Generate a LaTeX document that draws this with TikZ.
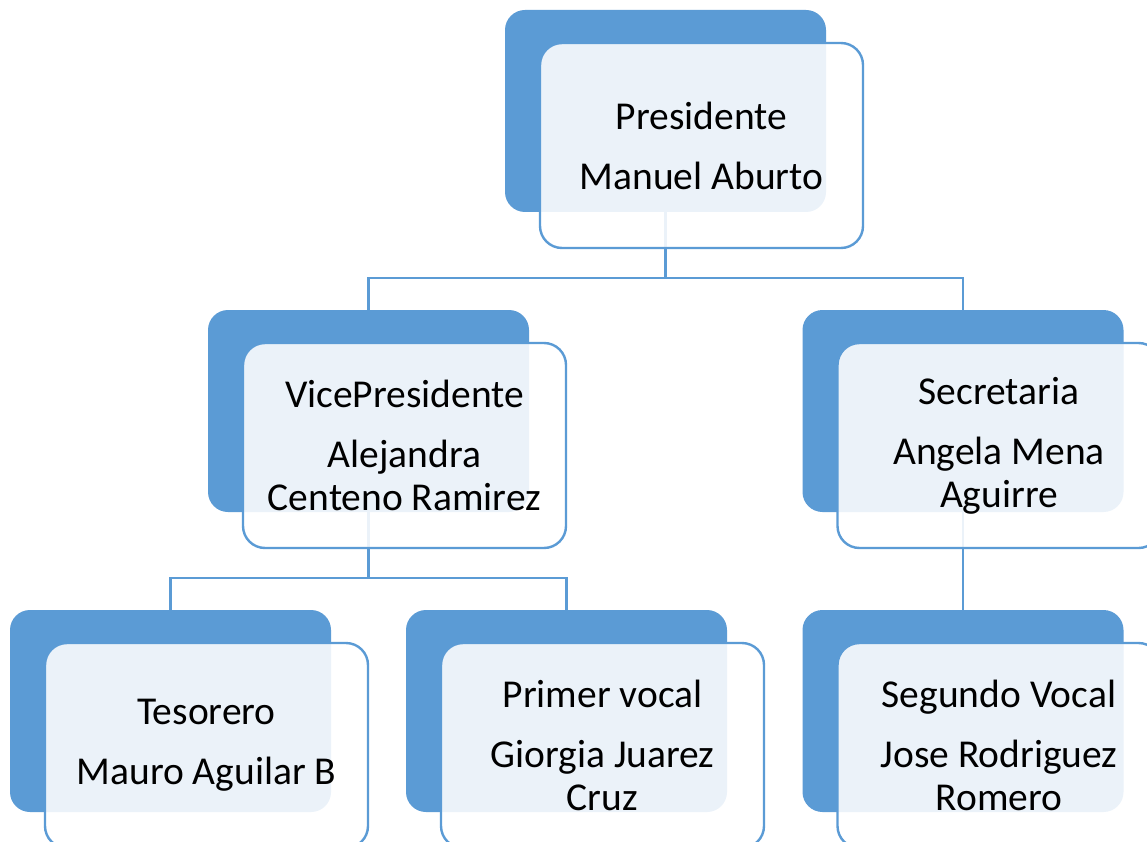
\documentclass[tikz,border=0pt]{standalone}
\usepackage{fontspec}
\setmainfont{Carlito}
\definecolor{orgblue}{HTML}{5B9BD5}
\tikzset{
x=1pt, y=-1pt,
back/.style={rectangle, rounded corners=20pt, fill=orgblue, minimum width=321pt, minimum height=202pt, inner sep=0pt, outer sep=0pt},
front/.style={rectangle, rounded corners=22pt, draw=orgblue, line width=2.4pt, fill=white, fill opacity=0.88, text opacity=1, minimum width=323pt, minimum height=205pt, inner sep=0pt, align=center, font=\fontsize{39.5}{43}\selectfont},
link/.style={draw=orgblue, line width=2.6pt},
}

\begin{document}
\begin{tikzpicture}
        \clip (0,0) rectangle (1147,842);
        \fill[white] (0,0) rectangle (1147,842);

        \node[back] (presB) at (665.5,111) {};
        \node[back] (viceB) at (368.5,411) {};
        \node[back] (secB) at (963,411) {};
        \node[back] (tesB) at (170.5,711) {};
        \node[back] (primB) at (566.5,711) {};
        \node[back] (segB) at (963,711) {};

        \draw[link] (presB.south) -- ++(0,66) -| (viceB.north);
        \draw[link] (presB.south) -- ++(0,66) -| (secB.north);
        \draw[link] (viceB.south) -- ++(0,66) -| (tesB.north);
        \draw[link] (viceB.south) -- ++(0,66) -| (primB.north);
        \draw[link] (secB.south) -- (segB.north);

        \node[front] (pres) at ([shift={(36,34.5)}]presB) {Presidente\\[17pt]Manuel Aburto};
        \node[front] (vice) at ([shift={(36,34.5)}]viceB) {VicePresidente\\[17pt]Alejandra\\Centeno Ramirez};
        \node[front] (sec) at ([shift={(36,34.5)}]secB) {Secretaria\\[17pt]Angela Mena\\Aguirre};
        \node[front] (tes) at ([shift={(36,34.5)}]tesB) {Tesorero\\[17pt]Mauro Aguilar B};
        \node[front] (prim) at ([shift={(36,34.5)}]primB) {Primer vocal\\[17pt]Giorgia Juarez\\Cruz};
        \node[front] (seg) at ([shift={(36,34.5)}]segB) {Segundo Vocal\\[17pt]Jose Rodriguez\\Romero};
    \end{tikzpicture}
\end{document}
